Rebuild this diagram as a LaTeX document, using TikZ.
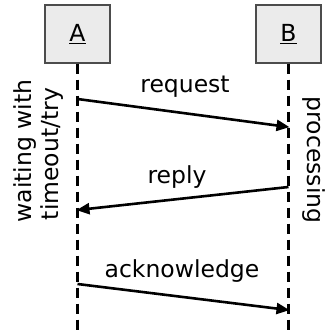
\documentclass[tikz,border=0pt]{standalone}
\usepackage{fontspec}
\setmainfont{DejaVu Sans}
\usetikzlibrary{arrows.meta}
\begin{document}
\begin{tikzpicture}[x=1pt,y=-1pt,
  every node/.style={font=\fontsize{23.5}{27}\selectfont, inner sep=0pt},
  actor/.style={draw=black!70, fill=black!8, line width=1.3pt, minimum width=65pt, minimum height=58pt},
  lifeline/.style={line width=2.6pt, dash pattern=on 10pt off 6pt},
  msg/.style={line width=2.6pt, -{Triangle[length=13pt,width=11pt]}, shorten >=-1pt}]
  \useasboundingbox (0,0) rectangle (328,333);
  % actors
  \node[actor] (A) at (77.5,34) {\underline{A}};
  \node[actor] (B) at (288.5,34) {\underline{B}};
  % lifeline ends
  \coordinate (Aend) at (77.5,333);
  \coordinate (Bend) at (288.5,333);
  \draw[lifeline] (A.south) -- (Aend);
  \draw[lifeline] (B.south) -- (Bend);
  % message anchor points on the lifelines
  \coordinate (r1) at (77.5,99);
  \coordinate (r2) at (288.5,127);
  \coordinate (p1) at (288.5,187);
  \coordinate (p2) at (77.5,210);
  \coordinate (k1) at (77.5,284);
  \coordinate (k2) at (288.5,310);
  \draw[msg] (r1) -- (r2);
  \draw[msg] (p1) -- (p2);
  \draw[msg] (k1) -- (k2);
  % message labels
  \node[anchor=base] (lreq) at (185,92) {request};
  \node[anchor=base] (lrep) at (177,183) {reply};
  \node[anchor=base] (lack) at (182,277) {acknowledge};
  % activity notes
  \node[rotate=90, anchor=base] (w1) at (31,151) {waiting with};
  \node[rotate=90, anchor=base] (w2) at (59,154) {timeout/try};
  \node[rotate=-90, anchor=base] (pr) at (308,160) {processing};
\end{tikzpicture}
\end{document}
